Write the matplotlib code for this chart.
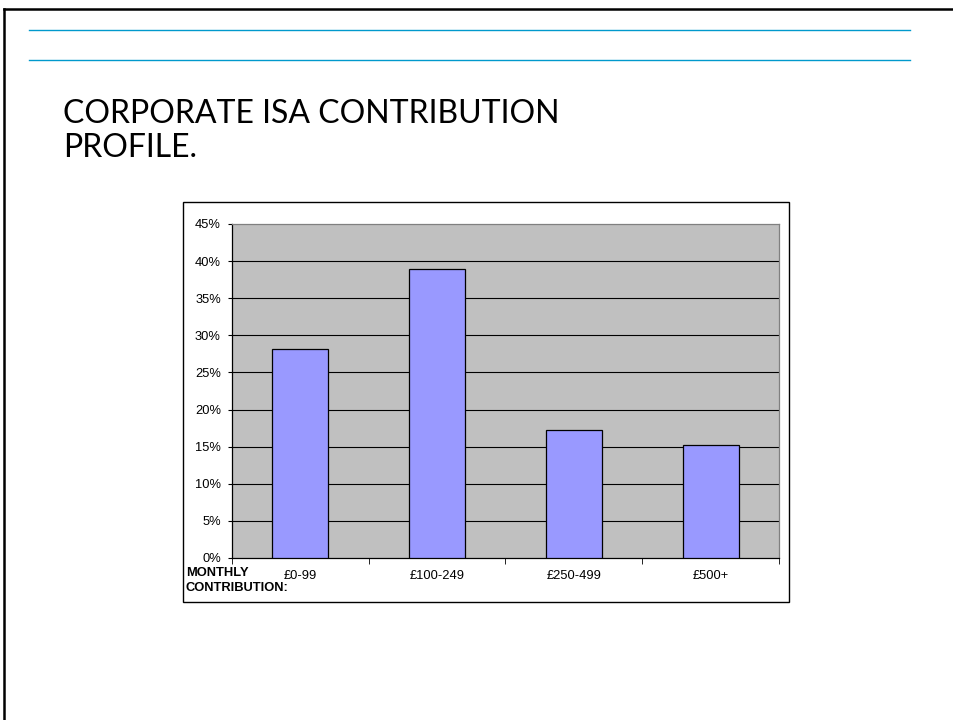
import matplotlib
matplotlib.use("Agg")
import matplotlib.pyplot as plt
from matplotlib.lines import Line2D
from matplotlib.patches import Rectangle
from matplotlib.ticker import FixedLocator, PercentFormatter

categories = ["£0-99", "£100-249", "£250-499", "£500+"]
values = [28.2, 39.0, 17.3, 15.2]
yticks = [0, 5, 10, 15, 20, 25, 30, 35, 40, 45]

W, H = 954, 720
fig = plt.figure(figsize=(W / 100, H / 100), dpi=100)
fig.patch.set_facecolor("white")

def fx(x):
    return x / W

def fy(y):
    return 1 - y / H

# slide border
fig.add_artist(Line2D([fx(4), fx(954)], [fy(9), fy(9)], color="black", lw=1.8))
fig.add_artist(Line2D([fx(4), fx(4)], [fy(9), fy(720)], color="black", lw=1.8))
# cyan rules
for yy in (30, 60):
    fig.add_artist(Line2D([fx(29), fx(910)], [fy(yy), fy(yy)], color="#0099CC", lw=1.0))

# title
fig.text(fx(63), fy(131), "CORPORATE ISA CONTRIBUTION\nPROFILE.",
         family=["Lato", "Liberation Sans", "DejaVu Sans"], fontweight="normal",
         fontsize=23, color="black", ha="left", va="center", linespacing=1.17)

# chart box
fig.add_artist(Rectangle((fx(183), fy(602)), fx(789) - fx(183), fy(202) - fy(602),
                         transform=fig.transFigure, facecolor="white",
                         edgecolor="black", lw=1.0, zorder=0))

ax = fig.add_axes([fx(232), fy(558), fx(779) - fx(232), fy(224) - fy(558)])
ax.set_facecolor("#C0C0C0")
x = list(range(len(categories)))
ax.bar(x, values, width=0.41, color="#9999FF", edgecolor="black", lw=0.9, zorder=3)
ax.set_xlim(-0.5, len(categories) - 0.5)
ax.set_ylim(0, 45)
ax.set_yticks(yticks)
ax.yaxis.set_major_formatter(PercentFormatter(decimals=0))
for t in yticks[1:-1]:
    ax.axhline(t, color="black", lw=0.8, zorder=1)

ax.set_xticks(x)
ax.set_xticklabels(categories)
ax.xaxis.set_minor_locator(FixedLocator([i - 0.5 for i in range(len(categories) + 1)]))
ax.tick_params(axis="x", which="major", length=0, pad=8.5)
ax.tick_params(axis="x", which="minor", length=4, direction="out", color="black")
ax.tick_params(axis="y", length=3, direction="out", pad=5)
for lab in ax.get_xticklabels() + ax.get_yticklabels():
    lab.set_family(["Liberation Sans", "DejaVu Sans"])
    lab.set_fontsize(9.3)

ax.spines["left"].set_color("black")
ax.spines["bottom"].set_color("black")
ax.spines["top"].set_color("#808080")
ax.spines["right"].set_color("#808080")
for s in ax.spines.values():
    s.set_linewidth(0.9)

fig.text(fx(186), fy(580.5), "MONTHLY\nCONTRIBUTION:", family=["Liberation Sans", "DejaVu Sans"],
         fontsize=9.3, fontweight="bold", ha="left", va="center", linespacing=1.38)

fig.savefig("out.png", dpi=100)
